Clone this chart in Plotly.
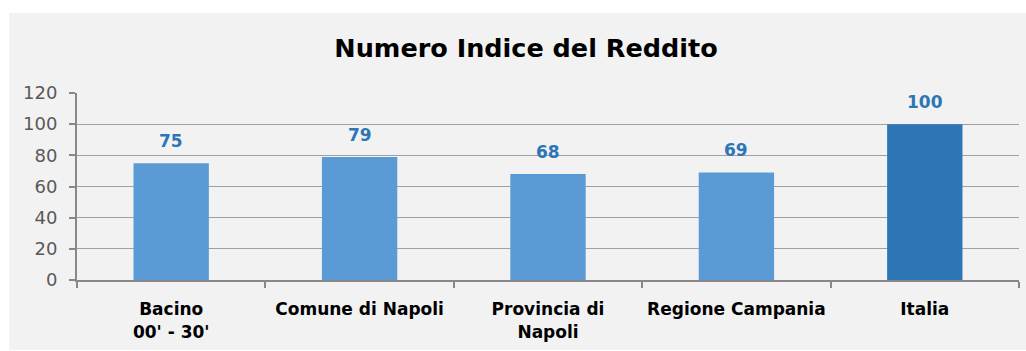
import plotly.graph_objects as go

categories = ["Bacino<br>00' - 30'", "Comune di Napoli", "Provincia di<br>Napoli",
              "Regione Campania", "Italia"]
values = [75, 79, 68, 69, 100]
bar_colors = ["#5b9bd5", "#5b9bd5", "#5b9bd5", "#5b9bd5", "#2e75b6"]
y_ticks = [0, 20, 40, 60, 80, 100, 120]

W, H = 1026, 351
L, R, T, B = 77, 7, 93, 71
pw, ph = W - L - R, H - T - B

def px_x(x):
    return (x - L) / pw

def px_y(y):
    return (H - B - y) / ph

fig = go.Figure()
fig.add_trace(go.Bar(
    x=categories, y=values, width=0.4,
    marker=dict(color=bar_colors, line=dict(width=0)),
    hoverinfo="skip",
))

for c, v in zip(categories, values):
    fig.add_annotation(
        x=c, y=v, text=f"<b>{v}</b>", showarrow=False,
        yanchor="bottom", yshift=10,
        font=dict(family="DejaVu Sans", size=17, color="#2e75b6"),
    )

# grey chart area panel
fig.add_shape(type="rect", xref="paper", yref="paper", layer="below",
              x0=px_x(9), x1=px_x(W + 2), y0=px_y(350), y1=px_y(13),
              fillcolor="#f2f2f2", line=dict(width=0))

fig.update_layout(
    width=W, height=H,
    margin=dict(l=L, r=R, t=T, b=B),
    paper_bgcolor="white", plot_bgcolor="rgba(0,0,0,0)",
    showlegend=False,
    bargap=0.6,
    title=dict(text="<b>Numero Indice del Reddito</b>", x=526 / W, xanchor="center",
               xref="container", y=1 - 48 / H, yanchor="middle",
               font=dict(family="DejaVu Sans", size=25.5, color="#000000")),
    xaxis=dict(
        tickson="boundaries", ticks="outside", ticklen=6, tickcolor="#888888",
        tickwidth=1.5, ticklabelstandoff=13,
        showline=True, linecolor="#888888", linewidth=2,
        tickfont=dict(family="DejaVu Sans", size=17, color="#000000", weight="bold"),
        showgrid=False,
    ),
    yaxis=dict(
        range=[0, 120], tickvals=y_ticks, ticks="outside", ticklen=6,
        tickcolor="#888888", tickwidth=1.5, ticklabelstandoff=8,
        showline=True, linecolor="#888888", linewidth=2,
        showgrid=True, gridcolor="#a0a0a0", gridwidth=1,
        zeroline=False,
        tickfont=dict(family="DejaVu Sans", size=18, color="#595959"),
    ),
)

fig.write_html("out.html")
